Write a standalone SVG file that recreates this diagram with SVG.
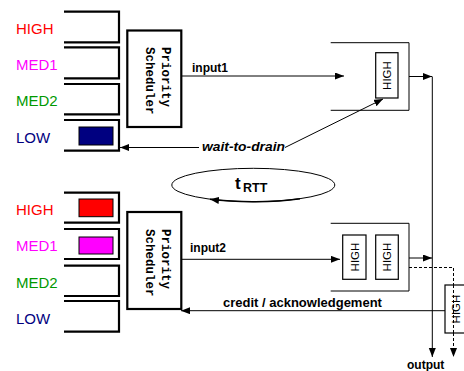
<svg xmlns="http://www.w3.org/2000/svg" width="464" height="371" viewBox="0 0 464 371">
<defs>
<marker id="ah" markerUnits="userSpaceOnUse" markerWidth="10" markerHeight="8" refX="9" refY="3.5" orient="auto">
<path d="M0,0 L9,3.5 L0,7 Z" fill="#000"/>
</marker>
</defs>
<style>
.q{fill:none;stroke:#000;stroke-width:2.2}
.sch{fill:#fff;stroke:#000;stroke-width:2.2}
.st{font-family:"Liberation Mono",monospace;font-weight:bold;font-size:12.5px;fill:#000}
.lbl{font-family:"Liberation Sans",Arial,sans-serif;font-size:15px}
.ob{fill:none;stroke:#000;stroke-width:1}
.hb{fill:#fff;stroke:#000;stroke-width:1.2}
.ht{font-family:"Liberation Sans",Arial,sans-serif;font-size:11.5px;fill:#000;text-anchor:middle}
.c{fill:none;stroke:#000;stroke-width:1}
.bt{font-family:"Liberation Sans",Arial,sans-serif;font-weight:bold;font-size:12px;fill:#000}
</style>
<g id="input1-queues">
<path class="q" d="M64,11.7 H119 V42.3 H64"/>
<path class="q" d="M64,47.3 H119 V78.3 H64"/>
<path class="q" d="M64,84 H119 V114.3 H64"/>
<path class="q" d="M64,120 H119 V150.7 H64"/>
<rect x="79" y="127" width="34" height="18" fill="#000080" stroke="#000" stroke-width="1"/>
<text class="lbl" x="16" y="34" fill="#ff0000">HIGH</text>
<text class="lbl" x="16" y="70" fill="#ff00ff">MED1</text>
<text class="lbl" x="16" y="106" fill="#009900">MED2</text>
<text class="lbl" x="16" y="143" fill="#000080">LOW</text>
</g>
<g id="scheduler1">
<rect class="sch" x="127.3" y="30.5" width="54" height="96.5"/>
<text class="st" transform="translate(162,47) rotate(90)">Priority</text>
<text class="st" transform="translate(146,47) rotate(90)">Scheduler</text>
</g>
<g id="input2-queues">
<path class="q" d="M64,192.7 H119 V222.7 H64"/>
<path class="q" d="M64,229 H119 V259 H64"/>
<path class="q" d="M64,265.7 H119 V296 H64"/>
<path class="q" d="M64,301 H119 V331.7 H64"/>
<rect x="79" y="199" width="34" height="17.7" fill="#ff0000" stroke="#000" stroke-width="1"/>
<rect x="79" y="237" width="34" height="17" fill="#ff00ff" stroke="#000" stroke-width="1"/>
<text class="lbl" x="16" y="215" fill="#ff0000">HIGH</text>
<text class="lbl" x="16" y="251" fill="#ff00ff">MED1</text>
<text class="lbl" x="16" y="288" fill="#009900">MED2</text>
<text class="lbl" x="16" y="324" fill="#000080">LOW</text>
</g>
<g id="scheduler2">
<rect class="sch" x="127.3" y="212" width="54" height="97"/>
<text class="st" transform="translate(162,229) rotate(90)">Priority</text>
<text class="st" transform="translate(146,229) rotate(90)">Scheduler</text>
</g>
<g id="output-buffer1">
<path class="ob" d="M330.7,42.7 H409 V110.3 H330.7"/>
<rect class="hb" x="375.7" y="52.7" width="22.3" height="45.3"/>
<text class="ht" transform="translate(391,75.5) rotate(-90)">HIGH</text>
</g>
<g id="output-buffer2">
<path class="ob" d="M330.7,223.3 H409 V291 H330.7"/>
<rect class="hb" x="342.7" y="235" width="23.3" height="44.3"/>
<text class="ht" transform="translate(358.5,257) rotate(-90)">HIGH</text>
<rect class="hb" x="375.7" y="235" width="22.6" height="44.3"/>
<text class="ht" transform="translate(391,257) rotate(-90)">HIGH</text>
</g>
<g id="rtt">
<ellipse cx="253.3" cy="185" rx="81.5" ry="16.7" fill="none" stroke="#000" stroke-width="1"/>
<path d="M300,198.7 A81.5,16.7 0 0 1 210,199.3" fill="none" stroke="#000" stroke-width="1.6" marker-end="url(#ah)"/>
<text font-family="Liberation Sans,Arial,sans-serif" font-weight="bold" font-size="17px" x="235" y="189">t</text>
<text font-family="Liberation Sans,Arial,sans-serif" font-weight="bold" font-size="12.5px" x="243" y="192">RTT</text>
</g>
<g id="connectors">
<path class="c" d="M181,76 H344" marker-end="url(#ah)"/>
<text class="bt" x="192" y="71.7">input1</text>
<path class="c" d="M181,259.3 H340" marker-end="url(#ah)"/>
<text class="bt" x="190" y="252">input2</text>
<path class="c" d="M409,76.5 H432" marker-end="url(#ah)"/>
<path class="c" d="M409,258 H432" marker-end="url(#ah)"/>
<path class="c" d="M432.3,76.5 V357" marker-end="url(#ah)"/>
<path class="c" d="M409,267.5 H453.5 V357" stroke-dasharray="3,2" marker-end="url(#ah)"/>
<path class="c" d="M285,147.5 L383,99" marker-end="url(#ah)"/>
<path class="c" d="M199,147.5 H120" marker-end="url(#ah)"/>
<text font-family="Liberation Sans,Arial,sans-serif" font-weight="bold" font-style="italic" font-size="13px" x="202" y="151" textLength="83" lengthAdjust="spacingAndGlyphs">wait-to-drain</text>
<path class="c" d="M445,310.7 H181" marker-end="url(#ah)"/>
<text font-family="Liberation Sans,Arial,sans-serif" font-weight="bold" font-size="13px" x="223" y="307">credit / acknowledgement</text>
<text class="bt" x="407" y="369">output</text>
</g>
<g id="credit-buffer">
<rect class="hb" x="445" y="285" width="22" height="48"/>
<text class="ht" transform="translate(459.5,309) rotate(-90)">HIGH</text>
<path d="M453.5,285 V333" stroke="#000" stroke-width="1" stroke-dasharray="3,2"/>
</g>
</svg>
